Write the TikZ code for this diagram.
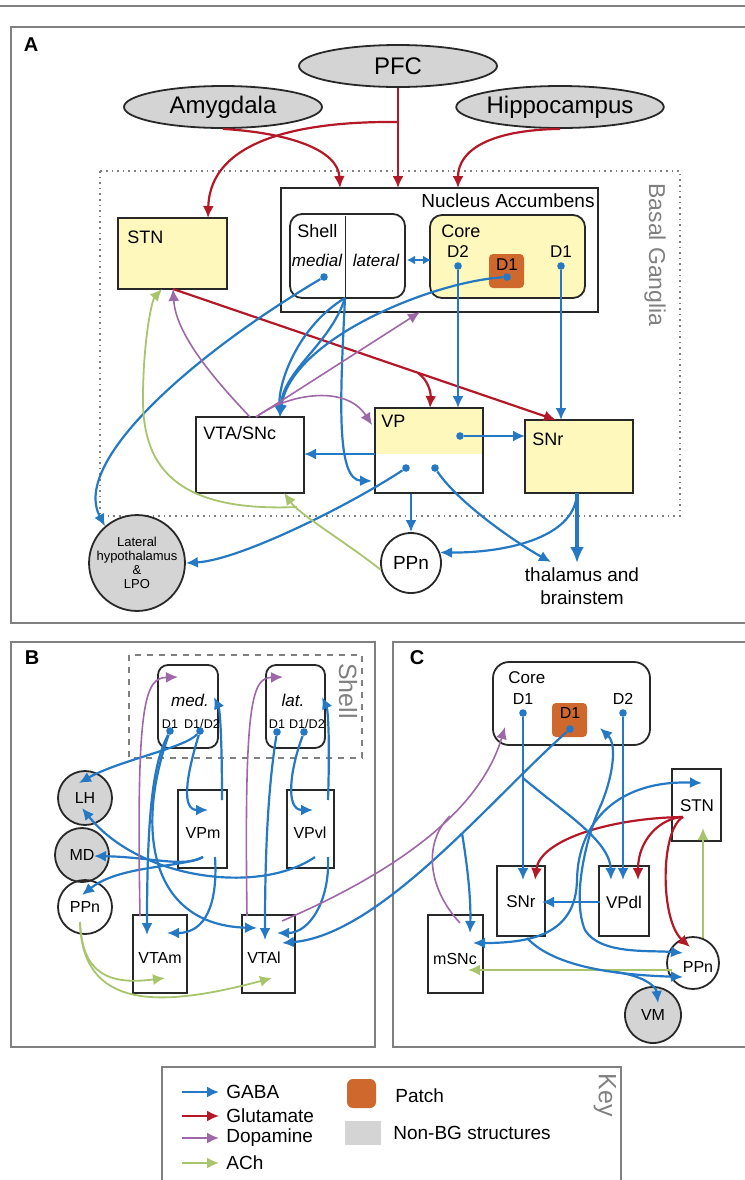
\documentclass[tikz,border=0pt]{standalone}
\usepackage{fontspec}
\setmainfont{Liberation Sans}
\usetikzlibrary{arrows.meta, shapes.geometric}

\definecolor{colGABA}{RGB}{36,120,196}
\definecolor{colGlu}{RGB}{180,24,38}
\definecolor{colDopa}{RGB}{158,104,168}
\definecolor{colACh}{RGB}{168,196,108}
\definecolor{bgyel}{RGB}{255,248,188}
\definecolor{patchor}{RGB}{206,104,44}
\definecolor{nonbg}{RGB}{212,212,212}
\definecolor{framegr}{RGB}{128,128,128}
\definecolor{inkgr}{RGB}{40,40,40}

\tikzset{
  panel/.style={draw=framegr, line width=0.9pt},
  regbox/.style={draw=inkgr, line width=0.9pt, inner sep=0pt},
  roundbox/.style={regbox, rounded corners=6pt},
  patchbox/.style={fill=patchor, rounded corners=2pt, inner sep=0pt},
  nonbgell/.style={ellipse, draw=inkgr, fill=nonbg, line width=0.9pt, inner sep=0pt},
  circ/.style={circle, draw=inkgr, line width=0.9pt, inner sep=0pt},
  nonbgcirc/.style={circ, fill=nonbg},
  dot/.style={circle, fill=colGABA, inner sep=0pt, minimum size=3.8pt},
  gabaarrow/.style={draw=colGABA, line width=1.1pt, ->},
  gababoth/.style={draw=colGABA, line width=1.1pt, <->},
  gluarrow/.style={draw=colGlu, line width=1.1pt, ->},
  dopaarrow/.style={draw=colDopa, line width=0.8pt, ->},
  dopaline/.style={draw=colDopa, line width=0.8pt},
  acharrow/.style={draw=colACh, line width=0.9pt, ->},
  letter/.style={font=\fontsize{10}{12}\selectfont\bfseries, inner sep=0pt},
  lblA/.style={font=\fontsize{9}{10}\selectfont, inner sep=0pt},
  lblB/.style={font=\fontsize{8}{9}\selectfont, inner sep=0pt},
  lblC/.style={font=\fontsize{8.5}{9.5}\selectfont, inner sep=0pt},
  grayttl/.style={text=framegr, inner sep=0pt},
  keytxt/.style={font=\fontsize{9.5}{11}\selectfont, inner sep=0pt, anchor=west}
}

\begin{document}
\begin{tikzpicture}[x=0.5pt, y=-0.5pt, >={Latex[length=6pt,width=5.5pt]}]

\useasboundingbox (0,0) rectangle (745,1180);

% frames of the panels
\draw[framegr, line width=0.75pt] (0,6) -- (745,6);
\draw[panel] (11,27) rectangle (760,623);
\draw[panel] (11,642) rectangle (375,1047);
\draw[panel] (393,642) rectangle (760,1047);
\draw[panel] (162,1067) rectangle (621,1200);

\node[letter] (labA) at (31,45) {A};
\node[letter] (labB) at (32,658) {B};
\node[letter] (labC) at (417,658) {C};

% ---------------- panel A ----------------
\draw[framegr, dotted, line width=0.8pt] (100,171) rectangle (680,516);
\node[grayttl, rotate=-90, font=\fontsize{11.5}{13}\selectfont] (bgTitle) at (655,255) {Basal Ganglia};

\node[nonbgell, minimum width=99pt, minimum height=21pt, font=\fontsize{12}{14}\selectfont] (pfc) at (398,66) {PFC};
\node[nonbgell, minimum width=99pt, minimum height=21pt, font=\fontsize{12}{14}\selectfont] (amyg) at (223,107) {Amygdala};
\node[nonbgell, minimum width=101pt, minimum height=21pt, font=\fontsize{12}{14}\selectfont] (hippo) at (560,107) {Hippocampus};

\node[regbox, minimum width=158.5pt, minimum height=62pt] (nacc) at (439.5,250) {};
\node[lblA, anchor=east, font=\fontsize{9.5}{11}\selectfont] (naccTxt) at (595,201) {Nucleus Accumbens};

\node[regbox, fill=bgyel, minimum width=54.5pt, minimum height=35.5pt] (stnA) at (172.5,253.5) {};
\node[lblA, anchor=west] (stnAtxt) at (127,237) {STN};

\node[roundbox, minimum width=57.5pt, minimum height=42pt] (shellA) at (347.5,256) {};
\draw[inkgr, line width=0.5pt] (345,216) -- (345,298);
\node[lblA, anchor=west] (shellTxt) at (297,231) {Shell};
\node[lblA, font=\fontsize{8.5}{10}\selectfont\itshape] (medTxt) at (317,260) {medial};
\node[lblA, font=\fontsize{8.5}{10}\selectfont\itshape] (latTxt) at (376,260) {lateral};

\node[roundbox, fill=bgyel, minimum width=77.5pt, minimum height=41.5pt] (coreA) at (507.5,256.5) {};
\node[lblA, anchor=west] (coreAtxt) at (441,231) {Core};
\node[lblA, font=\fontsize{8.5}{10}\selectfont] (coreAd2) at (458,252) {D2};
\node[lblA, font=\fontsize{8.5}{10}\selectfont] (coreAd1) at (561,252) {D1};
\node[patchbox, minimum width=17.5pt, minimum height=17pt] (patchA) at (506.5,271) {};
\node[lblA, font=\fontsize{8.5}{10}\selectfont] (patchAtxt) at (507,265) {D1};

\node[regbox, minimum width=54pt, minimum height=38pt] (vtaA) at (250,455) {};
\node[lblA, anchor=west] (vtaAtxt) at (203,433) {VTA/SNc};

\fill[bgyel] (375,408) rectangle (483,454);
\node[regbox, minimum width=54pt, minimum height=42.5pt] (vpA) at (429,450.5) {};
\node[lblA, anchor=west] (vpAtxt) at (381,421) {VP};

\node[regbox, fill=bgyel, minimum width=54pt, minimum height=36.5pt] (snrA) at (579,456.5) {};
\node[lblA, anchor=west] (snrAtxt) at (532,439) {SNr};

\node[nonbgcirc, minimum size=42pt, align=center, font=\fontsize{6.5}{7}\selectfont] (lhA) at (137,563) {Lateral\\hypothalamus\\\&\\LPO};
\node[circ, minimum size=30pt, font=\fontsize{9.5}{11}\selectfont] (ppnA) at (411,563) {PPn};
\node[lblA, align=center, font=\fontsize{9.5}{11.5}\selectfont] (thal) at (582,586) {thalamus and\\brainstem};

\node[dot] (dShellMed) at (324,277) {};
\node[dot] (dCoreD2) at (458,266) {};
\node[dot] (dCoreD1) at (561,266) {};
\node[dot] (dPatchA) at (507,277) {};
\node[dot] (dVP1) at (460,436) {};
\node[dot] (dVP2) at (406,468) {};
\node[dot] (dVP3) at (435,468) {};

% ports of panel A
\coordinate (pfcSplit) at (398,122);
\coordinate (naccPFC) at (398,188);
\coordinate (naccAmy) at (340,188);
\coordinate (naccHip) at (458,188);
\coordinate (stnAtop) at (208,218);
\coordinate (stnAout) at (173,289);
\coordinate (stnAin) at (162,289);
\coordinate (snrAtop1) at (556,420);
\coordinate (stnSplit) at (418,373);
\coordinate (vpAtop1) at (430,408);
\coordinate (vpAtop2) at (458,408);
\coordinate (snrAtop2) at (561,420);
\coordinate (snrAin) at (525,436);
\coordinate (vpAleft) at (375,454);
\coordinate (vtaAright) at (304,454);
\coordinate (vtaAtop) at (280,417);
\coordinate (vtaAtopL) at (250,417);
\coordinate (vtaAtopM) at (256,417);
\coordinate (vtaAbot) at (284,493);
\coordinate (shellBot) at (345,298);
\coordinate (vpAin) at (372,481);
\coordinate (vpAin2) at (372,425);
\coordinate (naccBot) at (420,312);
\coordinate (snrAbot) at (577,493);
\coordinate (thalTop) at (577,563);
\coordinate (thalIn) at (551,562);
\coordinate (achSplitA) at (297,507);
\coordinate (shellR) at (407,260);
\coordinate (coreL) at (431,260);

% glutamate
\draw[gluarrow] (pfc.south) -- (naccPFC);
\draw[gluarrow] (pfcSplit) .. controls (300,121) and (210,140) .. (stnAtop);
\draw[gluarrow] (amyg.south) .. controls (290,133) and (338,150) .. (naccAmy);
\draw[gluarrow] (hippo.south) .. controls (490,130) and (458,150) .. (naccHip);
\draw[gluarrow] (stnAout) -- (snrAtop1);
\draw[gluarrow] (stnSplit) .. controls (428,380) and (431,392) .. (vpAtop1);

% GABA
\draw[gababoth, >={Latex[length=4pt,width=4.5pt]}] (shellR) -- (coreL);
\draw[gabaarrow] (dCoreD2) -- (vpAtop2);
\draw[gabaarrow] (dCoreD1) -- (snrAtop2);
\draw[gabaarrow] (dVP1) -- (snrAin);
\draw[gabaarrow] (vpAleft) -- (vtaAright);
\draw[gabaarrow] (dVP2) .. controls (350,505) and (240,560) .. (lhA.east);
\draw[gabaarrow] (dVP3) .. controls (460,505) and (520,545) .. (thalIn);
\draw[gabaarrow] (vpA.south -| ppnA.north) -- (ppnA.north);
\draw[colGABA, line width=1.7pt, -{Latex[length=8pt,width=7pt]}] (snrAbot) -- (thalTop);
\draw[gabaarrow] (snrAbot) .. controls (575,540) and (500,553) .. (ppnA.20);
\draw[gabaarrow] (dShellMed) .. controls (200,350) and (70,460) .. (lhA.131);
\draw[gabaarrow] (shellBot) .. controls (330,345) and (283,370) .. (vtaAtop);
\draw[gabaarrow] (shellBot) .. controls (300,325) and (278,380) .. (vtaAtop);
\draw[gabaarrow] (dPatchA) .. controls (430,282) and (290,340) .. (vtaAtop);
\draw[gabaarrow] (shellBot) .. controls (340,400) and (336,480) .. (vpAin);

% dopamine
\draw[dopaarrow] (vtaAtopL) .. controls (215,380) and (176,335) .. (stnAout);
\draw[dopaarrow] (vtaAtopM) -- (naccBot);
\draw[dopaarrow] (vtaAtopM) .. controls (285,395) and (345,383) .. (vpAin2);

% ACh
\draw[acharrow] (ppnA.193) .. controls (350,545) and (300,515) .. (vtaAbot);
\draw[acharrow] (achSplitA) .. controls (180,512) and (143,470) .. (143,400)
  .. controls (143,340) and (152,300) .. (stnAin);

% ---------------- panel B ----------------
\draw[framegr, dashed, line width=0.8pt] (129,655) rectangle (362,758);
\node[grayttl, rotate=-90, font=\fontsize{12.5}{14}\selectfont] (shellBTitle) at (348,691) {Shell};

\node[regbox, rounded corners=5pt, minimum width=30pt, minimum height=41.5pt] (medB) at (188,706.5) {};
\node[regbox, rounded corners=5pt, minimum width=29.5pt, minimum height=41.5pt] (latB) at (295.5,706.5) {};
\node[lblB, font=\fontsize{8.5}{10}\selectfont\itshape] (medBtxt) at (190,700) {med.};
\node[lblB, font=\fontsize{8.5}{10}\selectfont\itshape] (latBtxt) at (293,700) {lat.};
\node[lblB, font=\fontsize{6.3}{7}\selectfont] (medBd1) at (170,724) {D1};
\node[lblB, font=\fontsize{6.3}{7}\selectfont] (medBd12) at (202,724) {D1/D2};
\node[lblB, font=\fontsize{6.3}{7}\selectfont] (latBd1) at (277,724) {D1};
\node[lblB, font=\fontsize{6.3}{7}\selectfont] (latBd12) at (307,724) {D1/D2};

\node[nonbgcirc, minimum size=27pt, font=\fontsize{8}{9}\selectfont] (lhB) at (85,798) {LH};
\node[nonbgcirc, minimum size=27pt, font=\fontsize{8}{9}\selectfont] (mdB) at (82,855) {MD};
\node[circ, minimum size=27pt, font=\fontsize{8}{9}\selectfont] (ppnB) at (85,907) {PPn};

\node[regbox, minimum width=24.5pt, minimum height=39pt] (vpmB) at (202.5,829) {};
\node[lblB] (vpmBtxt) at (203,833) {VPm};
\node[regbox, minimum width=23.5pt, minimum height=39pt] (vpvlB) at (310.5,829) {};
\node[lblB] (vpvlBtxt) at (310,833) {VPvl};
\node[regbox, minimum width=27pt, minimum height=39pt] (vtamB) at (160,954) {};
\node[lblB] (vtamBtxt) at (160,958) {VTAm};
\node[regbox, minimum width=26.5pt, minimum height=39pt] (vtalB) at (268.5,954) {};
\node[lblB] (vtalBtxt) at (264,958) {VTAl};

\node[dot] (dMedD1) at (170,731) {};
\node[dot] (dMedD12) at (200,731) {};
\node[dot] (dLatD1) at (277,732) {};
\node[dot] (dLatD12) at (304,732) {};

% ports of panel B
\coordinate (lhBin) at (79,783);
\coordinate (lhBin2) at (82,808);
\coordinate (mdBin) at (94,856);
\coordinate (ppnBin) at (82,895);
\coordinate (ppnBout) at (80,922);
\coordinate (vpmIn) at (208,810);
\coordinate (vpmTopR) at (222,800);
\coordinate (vpmBot) at (203,857);
\coordinate (vpmBotR) at (215,857);
\coordinate (medIn) at (214,697);
\coordinate (medInL) at (178,677);
\coordinate (vpvlIn) at (313,810);
\coordinate (vpvlTopR) at (328,800);
\coordinate (vpvlBot) at (315,857);
\coordinate (vpvlBotR) at (328,857);
\coordinate (latIn) at (322,697);
\coordinate (latInL) at (283,677);
\coordinate (vtamTop) at (147,935);
\coordinate (vtamTopL) at (140,916);
\coordinate (vtamIn) at (167,933);
\coordinate (vtamBot) at (165,978);
\coordinate (vtalTop) at (265,940);
\coordinate (vtalTopL) at (247,916);
\coordinate (vtalTopR) at (282,921);
\coordinate (vtalIn1) at (257,928);
\coordinate (vtalIn2) at (277,933);
\coordinate (vtalIn3) at (282,943);
\coordinate (vtalBot) at (272,978);

% GABA
\draw[gabaarrow] (dMedD12) .. controls (185,748) and (120,760) .. (lhBin);
\draw[gabaarrow] (dMedD1) .. controls (155,760) and (147,800) .. (vtamTop);
\draw[gabaarrow] (dMedD12) .. controls (185,780) and (182,810) .. (vpmIn);
\draw[gabaarrow] (vpmTopR) .. controls (222,740) and (220,710) .. (medIn);
\draw[gabaarrow] (vpmBot) .. controls (185,868) and (150,857) .. (mdBin);
\draw[gabaarrow] (vpmBot) .. controls (180,868) and (120,865) .. (ppnBin);
\draw[gabaarrow] (vpvlBot) .. controls (260,895) and (140,880) .. (lhBin2);
\draw[gabaarrow] (vpmBotR) .. controls (218,905) and (205,933) .. (vtamIn);
\draw[gabaarrow] (dMedD1) .. controls (135,830) and (150,925) .. (vtalIn1);
\draw[gabaarrow] (dLatD1) .. controls (266,800) and (265,880) .. (vtalTop);
\draw[gabaarrow] (dLatD12) .. controls (290,770) and (285,810) .. (vpvlIn);
\draw[gabaarrow] (vpvlTopR) .. controls (330,740) and (328,710) .. (latIn);
\draw[gabaarrow] (vpvlBotR) .. controls (330,900) and (310,933) .. (vtalIn2);

% dopamine
\draw[dopaarrow] (vtamTopL) .. controls (136,700) and (145,678) .. (medInL);
\draw[dopaarrow] (vtalTopL) .. controls (244,700) and (252,678) .. (latInL);

% ACh
\draw[acharrow] (ppnBout) .. controls (82,975) and (110,985) .. (vtamBot);
\draw[acharrow] (ppnBout) .. controls (82,1010) and (160,1008) .. (vtalBot);

% ---------------- panel C ----------------
\node[regbox, rounded corners=8pt, minimum width=78.5pt, minimum height=41.5pt] (coreC) at (571.5,703.5) {};
\node[lblC, anchor=west] (coreCtxt) at (508,678) {Core};
\node[lblC, font=\fontsize{8}{9}\selectfont] (coreCd1) at (523,699) {D1};
\node[lblC, font=\fontsize{8}{9}\selectfont] (coreCd2) at (623,699) {D2};
\node[patchbox, minimum width=17.5pt, minimum height=17pt] (patchC) at (569.5,720) {};
\node[lblC, font=\fontsize{8}{9}\selectfont] (patchCtxt) at (570,713) {D1};

\node[regbox, minimum width=24.5pt, minimum height=36pt] (stnC) at (696.5,805) {};
\node[lblC] (stnCtxt) at (697,806) {STN};
\node[regbox, minimum width=24pt, minimum height=35pt] (snrC) at (521,901) {};
\node[lblC] (snrCtxt) at (521,902) {SNr};
\node[regbox, minimum width=25pt, minimum height=35pt] (vpdlC) at (624,901) {};
\node[lblC] (vpdlCtxt) at (624,902) {VPdl};
\node[regbox, minimum width=27.5pt, minimum height=39pt] (msncC) at (455.5,954) {};
\node[lblC, font=\fontsize{8}{9}\selectfont] (msncCtxt) at (455,959) {mSNc};
\node[circ, minimum size=26pt, font=\fontsize{8}{9}\selectfont] (ppnC) at (693,963) {};
\node[lblC, font=\fontsize{8}{9}\selectfont] (ppnCtxt) at (698,967) {PPn};
\node[nonbgcirc, minimum size=28pt, font=\fontsize{8}{9}\selectfont] (vmC) at (653,1015) {VM};

\node[dot] (dCoreCD1) at (523,713) {};
\node[dot] (dCoreCD2) at (623,713) {};
\node[dot] (dPatchC) at (570,729) {};

% ports of panel C
\coordinate (snrCtop) at (523,880);
\coordinate (snrCtopR) at (535,880);
\coordinate (snrCright) at (542,902);
\coordinate (snrCbot) at (527,938);
\coordinate (vpdlTop) at (623,880);
\coordinate (vpdlTopL) at (611,880);
\coordinate (vpdlTopR) at (638,880);
\coordinate (vpdlLeft) at (600,902);
\coordinate (d1SplitC) at (523,778);
\coordinate (patchSplitC) at (462,833);
\coordinate (msncIn) at (470,933);
\coordinate (msncIn2) at (473,943);
\coordinate (msncRight) at (468,970);
\coordinate (msncTop) at (460,923);
\coordinate (stnCin) at (702,783);
\coordinate (stnCout) at (683,817);
\coordinate (stnCbot) at (703,828);
\coordinate (coreCin) at (505,727);
\coordinate (coreCin2) at (600,728);
\coordinate (dopaSplitC) at (450,816);
\coordinate (ppnCin) at (683,953);
\coordinate (ppnCin2) at (683,977);
\coordinate (ppnCtop) at (690,947);
\coordinate (ppnCup) at (703,938);
\coordinate (ppnCleft) at (672,970);
\coordinate (gabaSplitC) at (615,972);
\coordinate (vmIn) at (658,1003);

% glutamate
\draw[gluarrow] (stnCout) .. controls (610,818) and (540,840) .. (snrCtopR);
\draw[gluarrow] (stnCout) .. controls (660,818) and (638,840) .. (vpdlTopR);
\draw[gluarrow] (stnCout) .. controls (660,830) and (660,920) .. (ppnCtop);

% ACh
\draw[acharrow] (ppnCup) -- (stnCbot);
\draw[acharrow] (ppnCleft) -- (msncRight);

% GABA
\draw[gabaarrow] (dCoreCD1) -- (snrCtop);
\draw[gabaarrow] (dCoreCD2) -- (vpdlTop);
\draw[gabaarrow] (d1SplitC) .. controls (560,810) and (610,840) .. (vpdlTopL);
\draw[gabaarrow] (dPatchC) .. controls (490,800) and (380,935) .. (vtalIn3);
\draw[gabaarrow] (patchSplitC) .. controls (468,870) and (471,900) .. (msncIn);
\draw[gabaarrow] (vpdlLeft) -- (snrCright);
\draw[gababoth] (stnCin) .. controls (620,780) and (578,820) .. (577,880)
  .. controls (576,935) and (530,943) .. (msncIn2);
\draw[gababoth] (coreCin2) .. controls (618,745) and (612,780) .. (600,807)
  .. controls (585,840) and (572,900) .. (585,930)
  .. controls (600,955) and (650,950) .. (ppnCin);
\draw[gabaarrow] (snrCbot) .. controls (555,968) and (620,975) .. (ppnCin2);
\draw[gabaarrow] (gabaSplitC) .. controls (640,975) and (656,985) .. (vmIn);

% dopamine
\draw[dopaarrow] (vtalTopR) .. controls (400,870) and (480,810) .. (coreCin);
\draw[dopaline] (msncTop) .. controls (425,885) and (425,840) .. (dopaSplitC);

% ---------------- key ----------------
\foreach \y/\c/\t in {1092/colGABA/GABA, 1116/colGlu/Glutamate, 1138/colDopa/Dopamine, 1163/colACh/ACh} {
  \coordinate (kl\t) at (182,\y);
  \coordinate (kr\t) at (219,\y);
  \draw[draw=\c, line width=1pt, ->] (kl\t) -- (kr\t);
  \node[keytxt] (key\t) at (226,\y) {\t};
}
\node[patchbox, rounded corners=3pt, minimum width=14.5pt, minimum height=14.5pt] (keyPatch) at (361.5,1093.5) {};
\node[fill=nonbg, inner sep=0pt, minimum width=18pt, minimum height=12pt] (keyNonBG) at (363,1133) {};
\node[keytxt] (keyPatchTxt) at (395,1096) {Patch};
\node[keytxt] (keyNonBGTxt) at (393,1133) {Non-BG structures};
\node[grayttl, rotate=-90, font=\fontsize{12.5}{14}\selectfont] (keyTitle) at (605,1095) {Key};

\end{tikzpicture}
\end{document}
